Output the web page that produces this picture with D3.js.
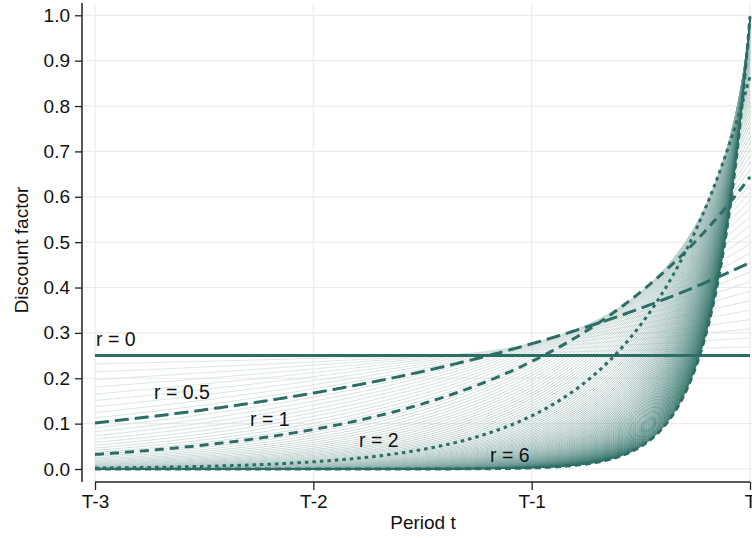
<!DOCTYPE html>
<html>
<head>
<meta charset="utf-8">
<script src="https://cdn.jsdelivr.net/npm/d3@7"></script>
<style>
  html, body { margin: 0; padding: 0; background: #fff; }
  svg { display: block; font-family: "Liberation Sans", Arial, sans-serif; }
</style>
</head>
<body>
<svg id="chart" width="752" height="538"></svg>
<script>
// Periods shown on the horizontal axis (0 = T-3 ... 3 = T)
const periods = [0, 1, 2, 3];
const periodLabels = ["T-3", "T-2", "T-1", "T"];
const yTicks = [0, 0.1, 0.2, 0.3, 0.4, 0.5, 0.6, 0.7, 0.8, 0.9, 1.0];

// Grid of discount rates drawn as thin background lines
const rateStep = 0.05;
const rateMax = 6;
const rateGrid = d3.range(0, rateMax + rateStep / 2, rateStep);

// Highlighted rates, their labels and dash styles
const highlightRates = [0, 0.5, 1, 2, 6];
const highlightLabels = ["r = 0", "r = 0.5", "r = 1", "r = 2", "r = 6"];
const highlightDash = [null, "14,6", "9,6", "3.5,4", "6,4"];
const labelAt = [[96, 346], [154, 399], [250, 426], [359, 447], [490, 462]];

// Normalised exponential weight over the four periods
function discount(t, r) {
  let total = 0;
  for (const p of periods) total += Math.exp(r * (p - 3));
  return Math.exp(r * (t - 3)) / total;
}

const svg = d3.select("#chart");
const x = d3.scaleLinear().domain([0, 3]).range([95, 750]);
const y = d3.scaleLinear().domain([0, 1]).range([469, 15.3]);

const teal = "#2c6e65";
const lightTeal = "#d6e2e0";
const thinMix = d3.interpolateRgb(lightTeal, teal);
const thinColor = r => thinMix(Math.pow(r / rateMax, 1.4));

// Grid lines
const grid = svg.append("g");
grid.selectAll("line.h").data(yTicks).join("line")
  .attr("x1", 83).attr("x2", 752)
  .attr("y1", d => y(d)).attr("y2", d => y(d))
  .attr("stroke", "#ebebeb").attr("stroke-width", 1.2);
grid.selectAll("line.v").data(periods).join("line")
  .attr("x1", d => x(d)).attr("x2", d => x(d))
  .attr("y1", 3).attr("y2", 481)
  .attr("stroke", "#ebebeb").attr("stroke-width", 1.2);

const tSamples = d3.range(0, 3.0001, 0.01);
const line = r => d3.line()
  .x(d => x(d))
  .y(d => y(discount(d, r)))(tSamples);

// Family of thin curves
svg.append("g").selectAll("path").data(rateGrid).join("path")
  .attr("d", r => line(r))
  .attr("fill", "none")
  .attr("stroke", r => thinColor(r))
  .attr("stroke-width", 0.85);

// Highlighted curves
svg.append("g").selectAll("path").data(highlightRates).join("path")
  .attr("d", r => line(r))
  .attr("fill", "none")
  .attr("stroke", teal)
  .attr("stroke-width", 3)
  .attr("stroke-dasharray", (r, i) => highlightDash[i]);

// Curve labels
svg.append("g").selectAll("text").data(highlightLabels).join("text")
  .attr("x", (d, i) => labelAt[i][0])
  .attr("y", (d, i) => labelAt[i][1])
  .attr("font-size", 19.5)
  .attr("fill", "#111")
  .text(d => d);

// Y axis
const yAxis = svg.append("g").attr("transform", "translate(82,0)")
  .call(d3.axisLeft(y).tickValues(yTicks).tickFormat(d3.format(".1f")).tickSize(7).tickPadding(5));
yAxis.select(".domain").attr("d", "M0,3V482").attr("stroke", "#222").attr("stroke-width", 1.5);
yAxis.selectAll(".tick line").attr("stroke", "#222").attr("stroke-width", 1.3);
yAxis.selectAll(".tick text").attr("font-size", 19).attr("fill", "#111")
  .attr("font-family", "Liberation Sans, Arial, sans-serif");

// X axis
const xAxis = svg.append("g").attr("transform", "translate(0,482)")
  .call(d3.axisBottom(x).tickValues(periods).tickFormat((d, i) => periodLabels[i]).tickSize(8).tickPadding(5));
xAxis.select(".domain").attr("d", `M${x(0)},0H${x(3)}`).attr("stroke", "#222").attr("stroke-width", 1.5);
xAxis.selectAll(".tick line").attr("stroke", "#222").attr("stroke-width", 1.3);
xAxis.selectAll(".tick text").attr("font-size", 19).attr("fill", "#111")
  .attr("font-family", "Liberation Sans, Arial, sans-serif");

// Axis titles
svg.append("text")
  .attr("x", 423).attr("y", 529)
  .attr("text-anchor", "middle")
  .attr("font-size", 19)
  .attr("fill", "#111")
  .text("Period t");
svg.append("text")
  .attr("transform", "translate(28,250) rotate(-90)")
  .attr("text-anchor", "middle")
  .attr("font-size", 19)
  .attr("fill", "#111")
  .text("Discount factor");
</script>
</body>
</html>
